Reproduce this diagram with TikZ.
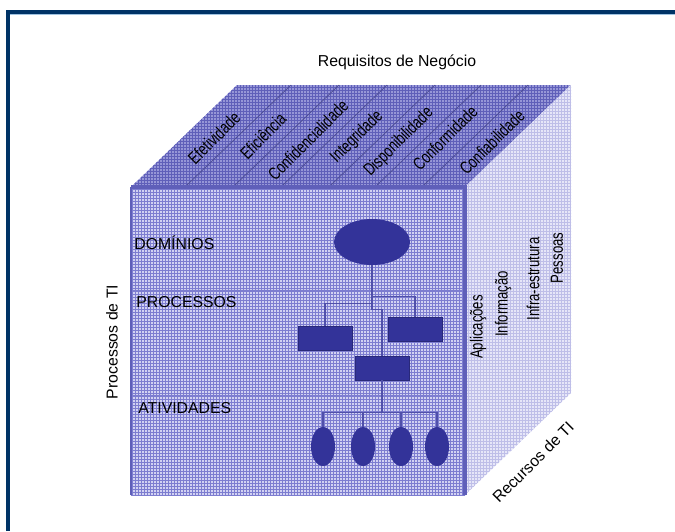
\documentclass[tikz,border=0pt]{standalone}
\usepackage{fontspec}
\setmainfont{Liberation Sans}
\newfontfamily\narrowsans[FakeStretch=0.75]{Liberation Sans}
\usetikzlibrary{shapes.geometric,calc}
\definecolor{navy}{RGB}{0,51,102}
\definecolor{skyline}{RGB}{160,195,225}
\definecolor{frontbg}{RGB}{210,210,242}
\definecolor{frontln}{RGB}{125,125,208}
\definecolor{topbg}{RGB}{150,150,215}
\definecolor{topln}{RGB}{95,95,185}
\definecolor{sidebg}{RGB}{230,230,248}
\definecolor{sideln}{RGB}{190,190,232}
\definecolor{boxc}{RGB}{51,51,153}
\definecolor{linkc}{RGB}{80,80,170}

\begin{document}
\begin{tikzpicture}[x=0.02cm, y=-0.02cm,
    txt/.style={font=\fontsize{9}{10}\selectfont, inner sep=0pt},
    ntxt/.style={font=\fontsize{10}{11}\selectfont\narrowsans, inner sep=0pt},
    box/.style={draw=boxc!80!black, fill=boxc, rectangle, minimum width=1.08cm, minimum height=0.48cm, inner sep=0pt},
    blob/.style={fill=boxc, ellipse, inner sep=0pt},
    link/.style={draw=linkc, line width=0.8pt},
    divide/.style={draw=topln!80!black, line width=0.4pt}]
\useasboundingbox (0,0) rectangle (675,531);
%frame
\draw[skyline, line width=0.6pt] (10,14.8) -- (675,14.8);
\draw[navy, line width=0.08cm] (8,531) -- (8,12) -- (675,12);
%front face
\begin{scope}
\clip (131,187) rectangle (465,495);
\fill[frontbg] (131,187) rectangle (465,495);
\draw[frontln, line width=0.3pt, step=0.06cm] (131,187) grid (466,496);
\end{scope}
\draw[frontln, line width=0.8pt] (131,291) -- (465,291);
\draw[frontln, line width=0.8pt] (131,396) -- (465,396);
\draw[topln, line width=1.2pt] (131,187) -- (131,495);
%top face
\begin{scope}
\clip (131,187) -- (237,85) -- (571,85) -- (465,187) -- cycle;
\fill[topbg] (131,85) rectangle (571,187);
\draw[topln, line width=0.3pt, step=0.06cm] (131,85) grid (572,188);
\end{scope}
\foreach \x in {185,233,281,329,375,422} \draw[divide] (\x,187) -- ++(106,-102);
%right face
\begin{scope}
\clip (465,187) -- (571,85) -- (571,393) -- (465,495) -- cycle;
\fill[sidebg] (465,85) rectangle (571,495);
\draw[sideln, line width=0.25pt, step=0.06cm] (465,85) grid (572,496);
\end{scope}
\draw[topln, line width=2pt] (131,187) -- (465,187) -- (465,495);
%top labels
\node[txt] (req) at (397,62) {Requisitos de Negócio};
\node[ntxt, rotate=45] (efet) at (214,138) {Efetividade};
\node[ntxt, rotate=45] (efic) at (263,136) {Eficiência};
\node[ntxt, rotate=45] (conf) at (308,140) {Confidencialidade};
\node[ntxt, rotate=45] (integ) at (357,137) {Integridade};
\node[ntxt, rotate=45] (disp) at (399,142) {Disponibilidade};
\node[ntxt, rotate=45] (conform) at (445,138) {Conformidade};
\node[ntxt, rotate=45] (confia) at (492,142) {Confiabilidade};
%side labels
\node[txt, rotate=90] (ptI) at (112,342) {Processos de TI};
\node[ntxt, rotate=90] (apl) at (478,327) {Aplicações};
\node[ntxt, rotate=90] (info) at (503,304) {Informação};
\node[ntxt, rotate=90] (infra) at (533,279) {Infra-estrutura};
\node[ntxt, rotate=90] (pess) at (557,258) {Pessoas};
\node[txt, rotate=45] (rti) at (533,462) {Recursos de TI};
%level labels
\node[txt, anchor=west] (ldom) at (134,243) {DOMÍNIOS};
\node[txt, anchor=west] (lproc) at (136,302) {PROCESSOS};
\node[txt, anchor=west] (lativ) at (138,408) {ATIVIDADES};
%tree
\node[blob, minimum width=1.52cm, minimum height=0.92cm] (dom) at (372,242) {};
\node[box] (p1) at (325,338) {};
\node[box] (p2) at (415,329) {};
\node[box] (p3) at (382,368) {};
\foreach \i/\x in {1/323, 2/363, 3/401, 4/437}
  \node[blob, minimum width=0.48cm, minimum height=0.78cm] (a\i) at (\x,446.5) {};
\draw[link] (dom.south) -- ++(0,44) -| (p3.north);
\draw[link] (dom.south) -- ++(0,31) -| (p2.north);
\draw[link] (dom.south) -- ++(0,38) -| (p1.north);
\draw[link] (p3.south) -- ++(0,32) coordinate (bus);
\draw[link] (a1.north) |- (bus);
\foreach \i in {2,3,4} \draw[link] (bus) -| (a\i.north);
\end{tikzpicture}
\end{document}
